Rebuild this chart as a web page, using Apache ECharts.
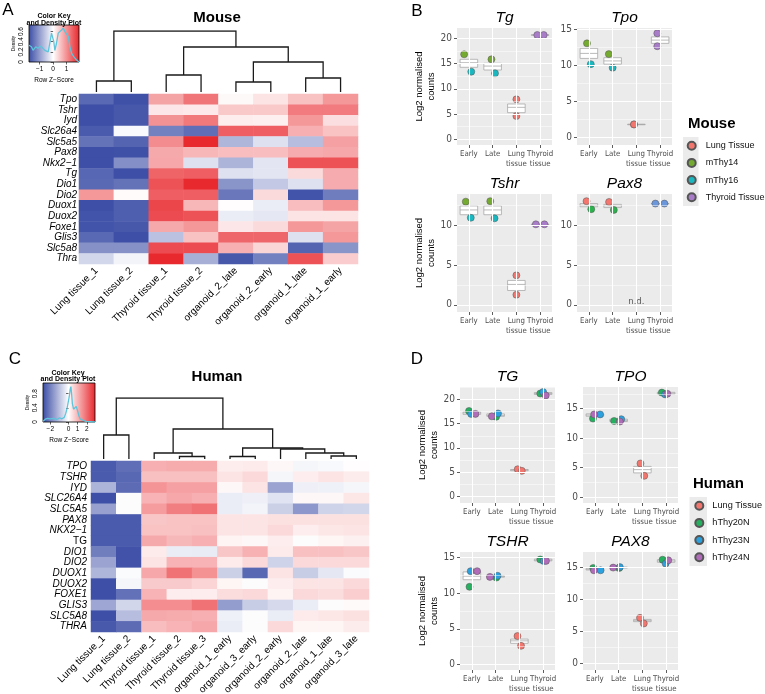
<!DOCTYPE html>
<html><head><meta charset="utf-8">
<script src="https://cdn.jsdelivr.net/npm/echarts@6/dist/echarts.min.js"></script>
<style>html,body{margin:0;padding:0;background:#fff}#c{width:765px;height:694px}</style>
</head><body><div id="c"></div>
<script>
const FONT = '"Liberation Sans", Arial, Helvetica, sans-serif';
const NARROW = '"Liberation Sans Narrow", "DejaVu Sans Condensed", "Liberation Sans", Arial, sans-serif';
const C_BLUE = '#3a4ca5', C_WHITE = '#ffffff', C_RED = '#e8262b';

// ---------- Heatmap data ----------
const mouseGenes = ['Tpo','Tshr','Iyd','Slc26a4','Slc5a5','Pax8','Nkx2−1','Tg','Dio1','Dio2','Duox1','Duox2','Foxe1','Glis3','Slc5a8','Thra'];
const mouseSamples = ['Lung tissue_1','Lung tissue_2','Thyroid tissue_1','Thyroid tissue_2','organoid_2_late','organoid_2_early','organoid_1_late','organoid_1_early'];
const mouseZ = [
 [-1.5,-1.75,0.85,1.25,0.12,0.3,0.6,0.95],
 [-1.77,-1.68,0.28,0.25,0.53,0.53,1.2,1.2],
 [-1.77,-1.68,1.0,1.22,0.22,0.2,0.95,0.35],
 [-1.65,0,-1.25,-1.45,1.45,1.45,0.75,0.58],
 [-1.4,-1.55,1.05,1.9,-0.7,-0.25,-0.62,0.88],
 [-1.77,-1.75,0.8,0.68,0.63,0.63,0.78,0.82],
 [-1.77,-1.1,0.82,-0.25,-0.72,-0.2,1.55,1.55],
 [-1.52,-1.77,1.4,1.45,-0.25,-0.2,0.38,0.78],
 [-1.5,-1.4,1.55,1.9,-1.05,-0.5,-0.25,0.78],
 [0.95,0.1,1.45,1.45,-1.35,0.38,-1.72,-1.3],
 [-1.77,-1.6,1.65,0.68,0.08,-0.12,0.63,0.95],
 [-1.72,-1.6,1.6,1.55,-0.12,-0.18,0.3,0.3],
 [-1.72,-1.68,0.8,0.95,0.28,0.38,0.95,0.85],
 [-1.5,-1.77,-0.58,0.6,1.38,1.38,-0.25,0.95],
 [-1.08,-1.08,1.6,1.6,0.75,0.42,-1.55,-1.05],
 [-0.35,-0.05,1.9,-0.77,-1.68,-1.25,1.55,0.5]
];
const humanGenes = ['TPO','TSHR','IYD','SLC26A4','SLC5A5','PAX8','NKX2−1','TG','DIO1','DIO2','DUOX1','DUOX2','FOXE1','GLIS3','SLC5A8','THRA'];
const humanSamples = ['Lung tissue_1','Lung tissue_2','Thyroid tissue_1','Thyroid tissue_2','Thyroid tissue_3','organoid_1_early','organoid_3_early','organoid_2_early','organoid_2_late','organoid_1_late','organoid_3_late'];
const humanZ = [
 [-2.57,-2.26,1.1,1.15,1.15,0.29,0.31,0.15,-0.1,-0.05,0.08],
 [-2.57,-2.35,0.88,0.88,0.88,0.4,0.55,-0.1,0.28,0.4,0.3],
 [-1.15,-2.3,1.45,1.3,1.3,0.15,0.4,-1.4,-0.2,-0.18,-0.1],
 [-2.75,0,1.05,1.2,1.1,-0.25,-0.2,-0.4,0.15,0.15,0.38],
 [-1.46,0,1.35,1.75,1.9,-0.25,-0.12,-0.7,-1.6,-0.65,-0.6],
 [-2.57,-2.57,0.8,0.85,0.85,0.4,0.4,0.45,0.45,0.45,0.45],
 [-2.57,-2.57,0.85,0.85,0.88,0.4,0.4,0.55,0.28,0.38,0.4],
 [-2.57,-2.57,1.18,0.98,1.1,0.2,0.15,0.28,0,0.18,0.25],
 [-2.0,-2.7,0.33,-0.25,-0.27,0.8,1.08,0.33,0.88,0.88,0.8],
 [-1.4,-2.7,0.4,1.05,1.05,0.33,0.55,-0.65,0.55,0.55,0.55],
 [-1.12,-0.02,1.2,1.9,1.5,-0.7,-2.35,0.4,-0.75,-0.33,-0.02],
 [-2.75,-0.1,0.75,0.75,0.6,0.18,0,0.28,0.4,0.4,0.55],
 [-2.75,-2.2,1.05,0.28,0.28,0.5,0.55,0.2,0.55,0.5,0.7],
 [-1.35,-0.6,1.55,1.55,1.9,-1.5,-0.75,-0.55,-0.25,0,0.12],
 [-2.75,-1.0,1.18,1.15,1.1,-0.18,0,-0.25,0.33,0.38,0.45],
 [-2.6,-2.3,0.92,1.05,1.2,-0.25,0,0.55,0.18,0.18,0.3]
];
// dendrogram merges (hclust style: negative = leaf, positive = earlier merge), with heights
const mouseTree = [[-1,-2,11],[-3,-4,17],[-5,-6,10],[-7,-8,14],[3,4,30],[2,5,45],[1,6,61]];
const humanTree = [[-1,-2,24],[-4,-5,2.5],[-3,2,6],[-6,-7,2.5],[-10,-11,3],[-9,5,6],[-8,6,10],[4,7,11],[3,8,30],[1,9,61]];

// colour key data
const mouseKeyRange = [-1.8, 1.93];
const humanKeyRange = [-2.8, 2.9];
const mouseKeyTicks = [-1, 0, 1];
const humanKeyTicks = [-2, 0, 1, 2];
const mouseDensityTicks = [0, 0.2, 0.4, 0.6];
const humanDensityTicks = [0, 0.4, 0.8];
const mouseDensity = [[-1.8,0.33],[-1.62,0.3],[-1.5,0.23],[-1.3,0.3],[-1.13,0.27],[-0.95,0.31],[-0.8,0.28],[-0.62,0.23],[-0.37,0.2],[-0.25,0.37],[-0.12,0.57],[-0.05,0.5],[0.05,0.4],[0.13,0.23],[0.25,0.37],[0.38,0.57],[0.5,0.6],[0.63,0.63],[0.75,0.67],[0.88,0.6],[1.0,0.57],[1.13,0.5],[1.25,0.3],[1.38,0.17],[1.55,0.1],[1.75,0.04],[1.93,0.0]];
const humanDensity = [[-2.8,0.02],[-2.55,0.08],[-2.3,0.1],[-2.18,0.12],[-2.0,0.09],[-1.8,0.12],[-1.64,0.1],[-1.45,0.12],[-1.28,0.07],[-1.1,0.1],[-0.98,0.12],[-0.72,0.09],[-0.47,0.13],[-0.3,0.25],[-0.15,0.4],[-0.05,0.42],[0.08,0.72],[0.18,0.92],[0.26,1.0],[0.34,0.78],[0.42,0.52],[0.55,0.36],[0.7,0.38],[0.84,0.44],[1.0,0.31],[1.15,0.16],[1.3,0.08],[1.5,0.04],[1.9,0.02],[2.9,0.0]];

// ---------- Dot plot data ----------
const stages = ['Early','Late','Lung\ntissue','Thyroid\ntissue'];
const mouseGroups = ['Lung Tissue','mThy14','mThy16','Thyroid Tissue'];
const humanGroups = ['Lung Tissue','hThy20N','hThy23N','hThy24N'];
const mouseColors = ['#f3766e','#74aa2f','#19b8c1','#a97cc9'];
const pax8Groups = ['Pax8 organoid A','Pax8 organoid B','Pax8 thyroid'];
const pax8Colors = ['#f3766e','#2bb24c','#6a96dc'];
const humanColors = ['#f3766e','#25b05f','#2ba1df','#b06cb9'];
// points: [stageIndex, value, dodge]; boxes: [stageIndex, low, mid, high]
const mTgTicks = [0,5,10,15,20], mTgRange = [-1.13, 22.04];
const mTgBoxes = [[0,14.26,15.17,15.84],[1,13.72,14.5,15.05],[2,5.27,6.33,6.99],[3,20.6,20.65,20.7]];
const mTgPoints = [[[2,7.92,0],[2,4.6,0]], [[0,16.83,-0.2],[1,15.84,-0.05]], [[0,13.39,0.1],[1,13.07,0.1]], [[3,20.65,-0.12],[3,20.65,0.15]]];
const mTpoTicks = [0,5,10,15], mTpoRange = [-1.07, 15.24];
const mTpoBoxes = [[0,11.0,11.7,12.4],[1,10.2,10.65,11.1],[2,1.78,1.8,1.82],[3,13.1,13.55,14.0]];
const mTpoPoints = [[[2,1.8,-0.1],[2,1.8,-0.1]], [[0,13.1,-0.08],[1,11.6,-0.16]], [[0,10.2,0.08],[1,9.7,0.0]], [[3,14.5,-0.12],[3,12.7,-0.12]]];
const mTshrTicks = [0,5,10], mTshrRange = [-0.9, 13.9];
const mTshrBoxes = [[0,11.3,11.9,12.4],[1,11.3,11.9,12.4],[2,1.8,2.56,3.06],[3,10.08,10.1,10.12]];
const mTshrPoints = [[[2,3.7,0],[2,1.26,0]], [[0,12.94,-0.13],[1,13.0,-0.1]], [[0,10.92,0.08],[1,10.85,0.08]], [[3,10.1,-0.18],[3,10.1,0.18]]];
const mPax8Ticks = [0,5,10], mPax8Range = [-0.9, 13.9];
const mPax8Boxes = [[0,12.3,12.5,12.7],[1,12.2,12.4,12.6],[3,12.68,12.7,12.72]];
const mPax8Points = [[[0,13.0,-0.1],[1,12.9,-0.15]], [[0,12.0,0.1],[1,11.9,0.05]], [[3,12.7,-0.2],[3,12.7,0.18]]];
const mPax8Note = [[2, 0.45, 'n.d.']];
const hTgTicks = [0,5,10,15,20], hTgRange = [-1.35, 22.54];
const hTgBoxes = [[0,16.9,17.2,17.4],[1,16.5,16.7,17.0],[2,5.3,5.45,5.55],[3,21.0,21.2,21.4]];
const hTgPoints = [[[2,5.6,-0.07],[2,5.27,0.1]], [[0,17.6,-0.12],[1,16.4,0.02],[3,21.2,-0.12]], [[0,17.0,-0.03],[1,17.1,0.1],[3,21.5,0]], [[0,17.0,0.15],[1,16.5,-0.16],[3,20.8,0.11]]];
const hTpoTicks = [0,5,10,15], hTpoRange = [-1.0, 18.65];
const hTpoBoxes = [[0,13.7,13.9,14.1],[1,12.8,13.0,13.2],[2,4.1,4.65,5.2],[3,17.45,17.6,17.75]];
const hTpoPoints = [[[2,5.7,-0.08],[2,3.6,0.08]], [[0,13.3,-0.08],[1,12.9,-0.19],[3,17.7,-0.18]], [[0,14.0,0.22],[1,13.2,0.11],[3,17.4,-0.04]], [[0,14.0,-0.03],[1,12.8,0.05],[3,17.5,0.05]]];
const hTshrTicks = [0,5,10,15], hTshrRange = [-0.8, 15.8];
const hTshrBoxes = [[0,11.9,12.4,13.0],[1,12.25,12.35,12.45],[2,2.95,3.3,3.55],[3,14.55,14.65,14.8]];
const hTshrPoints = [[[2,3.97,-0.08],[2,2.6,0.07]], [[0,10.9,-0.1],[1,12.2,0.03],[3,14.75,-0.12]], [[0,13.1,-0.05],[1,12.45,0.08],[3,14.55,0.02]], [[0,13.1,0.22],[1,12.3,-0.24],[3,14.55,0.12]]];
const hPax8Ticks = [0,5,10,15], hPax8Range = [-0.98, 17.4];
const hPax8Boxes = [[0,14.6,14.7,14.85],[1,14.9,15.0,15.05],[2,6.55,6.7,6.9],[3,15.8,16.0,16.2]];
const hPax8Points = [[[2,7.14,-0.1],[2,6.27,0.06]], [[0,14.9,-0.07],[1,14.9,0.02],[3,16.2,-0.15]], [[0,14.55,0.24],[1,15.05,0.05],[3,15.6,-0.02]], [[0,14.55,-0.04],[1,14.97,-0.23],[3,16.1,0.09]]];

// ---------- build option ----------
const grids = [], xAxes = [], yAxes = [], series = [], graphics = [];
function addGrid(r, extra) {
  grids.push(Object.assign({left: r[0], top: r[1], width: r[2], height: r[3], containLabel: false, outerBoundsMode: 'none', show: false}, extra || {}));
  return grids.length - 1;
}
function text(t, x, y, font, extra) {
  graphics.push({type: 'text', x: x, y: y, silent: true,
    style: Object.assign({text: t, font: font, fill: '#000', textAlign: 'center', textVerticalAlign: 'middle', align: 'center', verticalAlign: 'middle'}, extra || {})});
}
function dendroLines(merge) {
  const pos = [], ht = [], out = [];
  merge.forEach(function (m, i) {
    const a = m[0] < 0 ? [-m[0] - 1, 0] : [pos[m[0] - 1], ht[m[0] - 1]];
    const b = m[1] < 0 ? [-m[1] - 1, 0] : [pos[m[1] - 1], ht[m[1] - 1]];
    out.push({coords: [[a[0], a[1]], [a[0], m[2]], [b[0], m[2]], [b[0], b[1]]]});
    pos[i] = (a[0] + b[0]) / 2; ht[i] = m[2];
  });
  return out;
}
const heatIdx = [];
function addHeatmap(rect, dendroRect, genes, samples, z, tree, rowMargin) {
  const g = addGrid(rect);
  const xi = xAxes.length, yi = yAxes.length;
  xAxes.push({gridIndex: g, type: 'category', data: samples, position: 'bottom', axisLine: {show: false}, axisTick: {show: false}, splitLine: {show: false},
    axisLabel: {rotate: 45, interval: 0, hideOverlap: false, fontSize: 10, margin: 5, color: '#000', fontFamily: FONT}});
  yAxes.push({gridIndex: g, type: 'category', data: genes, inverse: true, axisLine: {show: false}, axisTick: {show: false}, splitLine: {show: false},
    axisLabel: {interval: 0, margin: rowMargin, color: '#000', fontFamily: FONT,
      formatter: function (v) { return v === 'TG' ? '{n|' + v + '}' : '{i|' + v + '}'; },
      rich: {i: {fontSize: 10, fontStyle: 'italic', fontFamily: FONT, color: '#000'}, n: {fontSize: 10, fontFamily: FONT, color: '#000'}}}});
  const data = [];
  z.forEach(function (row, r) { row.forEach(function (v, c) { data.push([c, r, v]); }); });
  heatIdx.push(series.length);
  series.push({type: 'heatmap', xAxisIndex: xi, yAxisIndex: yi, data: data, silent: true, itemStyle: {borderWidth: 0}});
  const gd = addGrid(dendroRect);
  const dx = xAxes.length, dy = yAxes.length;
  xAxes.push({gridIndex: gd, type: 'value', min: -0.5, max: samples.length - 0.5, show: false});
  yAxes.push({gridIndex: gd, type: 'value', min: 0, max: tree[tree.length - 1][2], show: false});
  series.push({type: 'lines', coordinateSystem: 'cartesian2d', xAxisIndex: dx, yAxisIndex: dy, polyline: true, silent: true,
    data: dendroLines(tree), lineStyle: {color: '#1a1a1a', width: 1.3, opacity: 1}});
}
function addKey(rect, range, ticks, density, dTicks, dMax) {
  const mid = (0 - range[0]) / (range[1] - range[0]);
  const g = addGrid(rect, {show: true, borderColor: '#000', borderWidth: 0.8,
    backgroundColor: {type: 'linear', x: 0, y: 0, x2: 1, y2: 0, colorStops: [{offset: 0, color: C_BLUE}, {offset: mid, color: C_WHITE}, {offset: 1, color: C_RED}]}});
  const xi = xAxes.length, yi = yAxes.length;
  xAxes.push({gridIndex: g, type: 'value', min: range[0], max: range[1], axisLine: {show: false}, splitLine: {show: false},
    axisTick: {show: true, length: 2.5, customValues: ticks, lineStyle: {color: '#000', width: 0.6}},
    axisLabel: {customValues: ticks, fontSize: 6.5, color: '#000', margin: 4, fontFamily: FONT, formatter: function (v) { return String(v).replace('-', '−'); }},
    name: 'Row Z−Score', nameLocation: 'middle', nameGap: 15, nameTextStyle: {fontSize: 6.5, color: '#000', fontFamily: FONT}});
  yAxes.push({gridIndex: g, type: 'value', min: 0, max: dMax, axisLine: {show: false}, splitLine: {show: false},
    axisTick: {show: true, length: 2.5, customValues: dTicks, lineStyle: {color: '#000', width: 0.6}},
    axisLabel: {customValues: dTicks, fontSize: 6.5, rotate: 90, color: '#000', margin: 4, fontFamily: FONT},
    name: 'Density', nameLocation: 'middle', nameGap: 13, nameRotate: 90, nameTextStyle: {fontSize: 4.5, color: '#000', fontFamily: FONT}});
  series.push({type: 'line', xAxisIndex: xi, yAxisIndex: yi, data: density, showSymbol: false, silent: true, lineStyle: {color: '#5cc5dc', width: 1.3}});
}
function addPanel(rect, title, ticks, range, boxes, points, names, colors, showName, note) {
  const g = addGrid(rect, {show: true, backgroundColor: '#ebebeb', borderWidth: 0});
  const xv = xAxes.length;
  xAxes.push({gridIndex: g, type: 'value', min: 0, max: 4, show: false});
  xAxes.push({gridIndex: g, type: 'category', data: stages, position: 'bottom', axisLine: {show: false}, splitLine: {show: false},
    axisTick: {show: true, alignWithLabel: true, length: 3, lineStyle: {color: '#333', width: 0.8}},
    axisLabel: {interval: 0, fontSize: 7.8, lineHeight: 10, color: '#4d4d4d', margin: 4, fontFamily: NARROW}});
  const yv = yAxes.length;
  yAxes.push({gridIndex: g, type: 'value', min: range[0], max: range[1], axisLine: {show: false}, splitLine: {show: false},
    axisTick: {show: true, length: 3, customValues: ticks, lineStyle: {color: '#333', width: 0.8}},
    axisLabel: {customValues: ticks, fontSize: 10, color: '#4d4d4d', margin: 5, fontFamily: NARROW},
    name: showName ? 'Log2 normalised\ncounts' : '', nameLocation: 'middle', nameGap: 11, nameRotate: 90,
    nameTextStyle: {fontSize: 9.5, lineHeight: 11.5, color: '#000', fontFamily: FONT}});
  const gridLines = [];
  ticks.forEach(function (t) { gridLines.push({yAxis: t, lineStyle: {color: '#fff', width: 1.1, type: 'solid'}}); });
  ticks.forEach(function (t) { const m = t + (ticks[1] - ticks[0]) / 2; if (m < range[1]) gridLines.push({yAxis: m, lineStyle: {color: '#fff', width: 0.5, type: 'solid'}}); });
  stages.forEach(function (s, i) { gridLines.push({xAxis: i + 0.5, lineStyle: {color: '#fff', width: 1.1, type: 'solid'}}); });
  series.push({type: 'line', xAxisIndex: xv, yAxisIndex: yv, data: [], silent: true, z: 1,
    markLine: {silent: true, symbol: 'none', animation: false, label: {show: false}, emphasis: {disabled: true}, data: gridLines}});
  series.push({type: 'custom', xAxisIndex: xv, yAxisIndex: yv, z: 2, silent: true, data: boxes,
    encode: {x: 0, y: [1, 2, 3]},
    renderItem: function (params, api) {
      const x = api.value(0) + 0.5, lo = api.value(1), md = api.value(2), hi = api.value(3);
      const p1 = api.coord([x - 0.37, hi]), p2 = api.coord([x + 0.37, lo]);
      const m1 = api.coord([x - 0.37, md]), m2 = api.coord([x + 0.37, md]);
      return {type: 'group', children: [
        {type: 'rect', shape: {x: p1[0], y: p1[1], width: p2[0] - p1[0], height: Math.max(p2[1] - p1[1], 0.5)}, style: {fill: '#fff', stroke: '#a8a8a8', lineWidth: 0.8}},
        {type: 'line', shape: {x1: m1[0], y1: m1[1], x2: m2[0], y2: m2[1]}, style: {stroke: '#a8a8a8', lineWidth: 0.8}}]};
    }});
  points.forEach(function (pts, k) {
    series.push({type: 'scatter', name: names[k], xAxisIndex: xv, yAxisIndex: yv, z: 3, silent: true, symbolSize: 7,
      itemStyle: {color: colors[k], borderColor: '#555', borderWidth: 0.5, opacity: 1},
      data: pts.map(function (p) { return [p[0] + 0.5 + p[2], p[1]]; })});
  });
  if (note) {
    series.push({type: 'scatter', xAxisIndex: xv, yAxisIndex: yv, z: 3, silent: true, symbolSize: 0,
      data: note.map(function (n) { return {value: [n[0] + 0.5, n[1]], label: {show: true, formatter: n[2], position: 'inside', fontSize: 9.5, color: '#333', fontFamily: NARROW}}; })});
  }
  text(title, rect[0] + rect[2] / 2, rect[1] - 10, 'italic 15.5px ' + FONT);
}

addHeatmap([79, 94, 279, 170], [79, 31, 279, 61], mouseGenes, mouseSamples, mouseZ, mouseTree, 2);
addHeatmap([91, 461, 278, 171], [91, 398, 278, 61], humanGenes, humanSamples, humanZ, humanTree, 4);
addKey([29, 25, 50, 37], mouseKeyRange, mouseKeyTicks, mouseDensity, mouseDensityTicks, 0.73);
addKey([43, 383, 52, 39], humanKeyRange, humanKeyTicks, humanDensity, humanDensityTicks, 1.1);

addPanel([457, 28, 95, 117], 'Tg', mTgTicks, mTgRange, mTgBoxes, mTgPoints, mouseGroups, mouseColors, true);
addPanel([577, 28, 95, 117], 'Tpo', mTpoTicks, mTpoRange, mTpoBoxes, mTpoPoints, mouseGroups, mouseColors, false);
addPanel([457, 194, 95, 118], 'Tshr', mTshrTicks, mTshrRange, mTshrBoxes, mTshrPoints, mouseGroups, mouseColors, true);
addPanel([577, 194, 95, 118], 'Pax8', mPax8Ticks, mPax8Range, mPax8Boxes, mPax8Points, pax8Groups, pax8Colors, false, mPax8Note);
addPanel([460, 387, 95, 116], 'TG', hTgTicks, hTgRange, hTgBoxes, hTgPoints, humanGroups, humanColors, true);
addPanel([583, 387, 95, 116], 'TPO', hTpoTicks, hTpoRange, hTpoBoxes, hTpoPoints, humanGroups, humanColors, false);
addPanel([460, 552, 95, 118], 'TSHR', hTshrTicks, hTshrRange, hTshrBoxes, hTshrPoints, humanGroups, humanColors, true);
addPanel([583, 552, 95, 118], 'PAX8', hPax8Ticks, hPax8Range, hPax8Boxes, hPax8Points, humanGroups, humanColors, false);

text('A', 8, 10, '17px ' + FONT);
text('B', 417, 11, '17px ' + FONT);
text('C', 15, 359, '17px ' + FONT);
text('D', 417, 359, '17px ' + FONT);
text('Mouse', 217, 18, 'bold 15px ' + FONT);
text('Human', 217, 377, 'bold 15px ' + FONT);
text('Color Key', 54, 16, 'bold 7px ' + FONT);
text('and Density Plot', 54, 23, 'bold 7px ' + FONT);
text('Color Key', 68, 373, 'bold 7px ' + FONT);
text('and Density Plot', 68, 379.5, 'bold 7px ' + FONT);
text('Mouse', 688, 124, 'bold 15px ' + FONT, {textAlign: 'left', align: 'left'});
text('Human', 693, 484, 'bold 15px ' + FONT, {textAlign: 'left', align: 'left'});
graphics.push({type: 'rect', shape: {x: 683, y: 137, width: 15.5, height: 69}, style: {fill: '#ebebeb'}, silent: true, z: -10});
graphics.push({type: 'rect', shape: {x: 689.5, y: 497, width: 17.5, height: 69}, style: {fill: '#ebebeb'}, silent: true, z: -10});

const option = {
  animation: false,
  backgroundColor: '#fff',
  textStyle: {fontFamily: FONT},
  grid: grids, xAxis: xAxes, yAxis: yAxes, series: series,
  visualMap: [
    {type: 'continuous', show: false, seriesIndex: heatIdx[0], min: mouseKeyRange[0], max: mouseKeyRange[1], inRange: {color: [C_BLUE, C_WHITE, C_RED]}},
    {type: 'continuous', show: false, seriesIndex: heatIdx[1], min: humanKeyRange[0], max: humanKeyRange[1], inRange: {color: [C_BLUE, C_WHITE, C_RED]}}
  ],
  legend: [
    {data: mouseGroups, orient: 'vertical', left: 686.7, top: 139.7, padding: 0, itemWidth: 8, itemHeight: 8, itemGap: 5.2, icon: 'circle', selectedMode: false,
      textStyle: {fontSize: 9, lineHeight: 12, color: '#111', fontFamily: FONT, padding: [0, 0, 0, 5]}},
    {data: humanGroups, orient: 'vertical', left: 694.3, top: 499.7, padding: 0, itemWidth: 8, itemHeight: 8, itemGap: 5.2, icon: 'circle', selectedMode: false,
      textStyle: {fontSize: 9.2, lineHeight: 12, color: '#111', fontFamily: FONT, padding: [0, 0, 0, 4]}}
  ],
  graphic: graphics
};
const chart = echarts.init(document.getElementById('c'), null, {renderer: 'canvas'});
chart.setOption(option);
</script></body></html>
